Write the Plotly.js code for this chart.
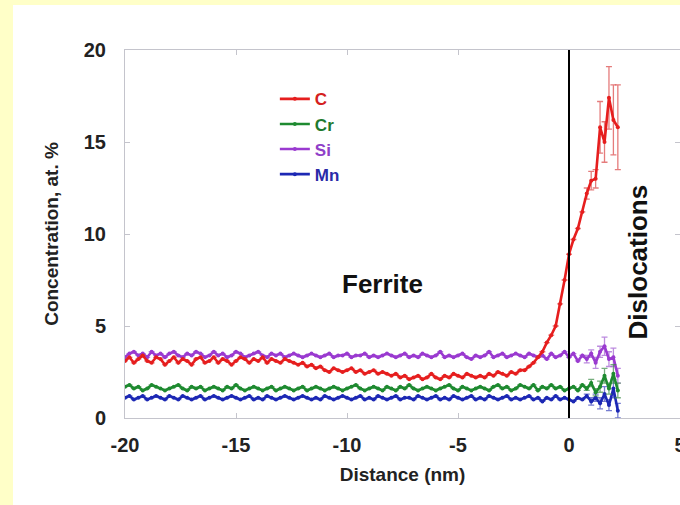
<!DOCTYPE html>
<html>
<head>
<meta charset="utf-8">
<script src="https://cdn.plot.ly/plotly-3.0.1.min.js"></script>
<style>
  html, body { margin: 0; padding: 0; width: 680px; height: 505px; overflow: hidden; background: #ffffc8; }
  #chart { position: absolute; left: 13px; top: 5px; width: 667px; height: 500px; background: #ffffff; }
</style>
</head>
<body>
<div id="chart"></div>
<script>
// Distance axis: first point and step (nm)
const distanceStart = -20;
const distanceStep = 0.2;

// Tick labels
const xTickVals = [-20, -15, -10, -5, 0, 5];
const xTickText = ['-20', '-15', '-10', '-5', '0', '5'];
const yTickVals = [0, 5, 10, 15, 20];
const yTickText = ['0', '5', '10', '15', '20'];

// Concentrations (at. %), one value per 0.2 nm from -20 nm to 2.2 nm
const carbon = [
  3.1, 3.3, 3.0, 3.2, 3.4, 3.1, 3.0, 3.3, 3.2, 2.9,
  3.1, 3.3, 3.0, 3.2, 3.1, 2.9, 3.2, 3.3, 3.0, 3.1,
  3.3, 3.0, 3.2, 3.1, 2.9, 3.1, 3.3, 3.2, 3.0, 3.2,
  3.1, 3.3, 3.0, 3.2, 3.1, 3.0, 3.2, 3.1, 3.0, 2.9,
  3.0, 2.8, 2.9, 2.7, 2.8, 2.6, 2.5, 2.7, 2.6, 2.5,
  2.6, 2.7, 2.5, 2.6, 2.4, 2.5, 2.6, 2.4, 2.5, 2.4,
  2.3, 2.4, 2.2, 2.3, 2.1, 2.2, 2.3, 2.1, 2.2, 2.4,
  2.2, 2.1, 2.3, 2.2, 2.4, 2.3, 2.2, 2.4, 2.3, 2.2,
  2.3, 2.2, 2.4, 2.3, 2.5, 2.4, 2.3, 2.5, 2.4, 2.6,
  2.6, 2.8, 3.0, 3.3, 3.6, 4.1, 4.5, 5.0, 6.2, 7.5,
  8.9, 9.7, 10.3, 11.2, 12.2, 12.9, 13.0, 15.8, 15.0, 17.4, 16.2, 15.8
];
const chromium = [
  1.7, 1.8, 1.6, 1.7, 1.5, 1.6, 1.8, 1.7, 1.6, 1.5,
  1.6, 1.7, 1.8, 1.6, 1.5, 1.7, 1.6, 1.7, 1.5, 1.6,
  1.7, 1.6, 1.5, 1.7, 1.6, 1.8, 1.6, 1.5, 1.6, 1.7,
  1.6, 1.5, 1.6, 1.7, 1.5, 1.6, 1.7, 1.6, 1.5, 1.6,
  1.7, 1.5, 1.6, 1.7, 1.6, 1.5, 1.6, 1.7, 1.6, 1.5,
  1.6, 1.7, 1.8, 1.6, 1.5, 1.6, 1.7, 1.6, 1.5, 1.7,
  1.6, 1.5, 1.7, 1.6, 1.8, 1.6, 1.5, 1.6, 1.7, 1.6,
  1.5, 1.6, 1.7, 1.8, 1.6, 1.5, 1.7, 1.6, 1.5, 1.6,
  1.7, 1.6, 1.5, 1.7, 1.8, 1.6, 1.7, 1.5, 1.6, 1.8,
  1.7, 1.6, 1.8, 1.5, 1.7, 1.6, 1.8, 1.6, 1.7, 1.5,
  1.6, 1.7, 1.5, 1.8, 1.6, 1.9, 1.4, 1.7, 2.3, 1.6, 2.4, 1.5
];
const silicon = [
  3.3, 3.5, 3.6, 3.4, 3.5, 3.3, 3.6, 3.4, 3.5, 3.3,
  3.5, 3.6, 3.4, 3.3, 3.5, 3.4, 3.6, 3.5, 3.3, 3.4,
  3.6, 3.4, 3.5, 3.3, 3.4, 3.6, 3.5, 3.3, 3.4, 3.5,
  3.6, 3.4, 3.3, 3.5, 3.4, 3.5, 3.3, 3.4, 3.5, 3.4,
  3.3, 3.4, 3.5, 3.4, 3.3, 3.4, 3.5, 3.3, 3.4, 3.4,
  3.5, 3.3, 3.4, 3.4, 3.5, 3.3, 3.4, 3.3, 3.4, 3.5,
  3.4, 3.3, 3.4, 3.5, 3.3, 3.4, 3.3, 3.5, 3.4, 3.3,
  3.4, 3.6, 3.3, 3.4, 3.3, 3.4, 3.5, 3.3, 3.2, 3.4,
  3.3, 3.4, 3.6, 3.3, 3.4, 3.5, 3.3, 3.4, 3.5, 3.4,
  3.3, 3.5, 3.4, 3.3, 3.4, 3.2, 3.5, 3.3, 3.4, 3.6,
  3.3, 3.5, 3.1, 3.4, 3.2, 3.5, 3.0, 3.6, 3.9, 3.2, 3.3, 2.3
];
const manganese = [
  1.1, 1.2, 1.0, 1.1, 1.2, 1.0, 1.1, 1.2, 1.1, 1.0,
  1.2, 1.1, 1.0, 1.2, 1.1, 1.0, 1.1, 1.2, 1.0, 1.1,
  1.2, 1.1, 1.0, 1.1, 1.2, 1.1, 1.0, 1.1, 1.2, 1.0,
  1.1, 1.0, 1.2, 1.1, 1.0, 1.1, 1.2, 1.1, 1.0, 1.1,
  1.2, 1.1, 1.0, 1.1, 1.0, 1.2, 1.1, 1.0, 1.1, 1.2,
  1.1, 1.0, 1.1, 1.2, 1.0, 1.1, 1.0, 1.2, 1.1, 1.0,
  1.1, 1.2, 1.0, 1.1, 1.1, 1.0, 1.2, 1.1, 1.0, 1.1,
  1.2, 1.0, 1.1, 1.0, 1.2, 1.1, 1.0, 1.1, 1.2, 1.0,
  1.1, 1.0, 1.2, 1.1, 1.0, 1.1, 1.2, 1.0, 1.1, 1.0,
  1.1, 1.2, 1.0, 1.1, 0.9, 1.1, 1.0, 1.2, 1.0, 1.1,
  1.0, 0.9, 1.1, 1.0, 1.2, 0.9, 1.1, 0.8, 1.3, 0.7, 1.6, 0.4
];

// Error bars on the last 8 points (0.8 nm to 2.2 nm)
const carbonErrTail    = [0.3, 0.5, 0.5, 1.4, 1.1, 1.7, 1.9, 2.3];
const chromiumErrTail  = [0.1, 0.2, 0.2, 0.3, 0.4, 0.3, 0.5, 0.4];
const siliconErrTail   = [0.2, 0.2, 0.3, 0.3, 0.5, 0.4, 0.5, 0.4];
const manganeseErrTail = [0.1, 0.2, 0.2, 0.3, 0.4, 0.3, 0.5, 0.4];

const seriesNames = ['C', 'Cr', 'Si', 'Mn'];

function padErr(values, tail) {
  const out = values.map(() => 0);
  for (let k = 0; k < tail.length; k++) out[values.length - tail.length + k] = tail[k];
  return out;
}

function makeTrace(name, values, tail, color, errColor, labelColor, rank) {
  return {
    type: 'scatter',
    mode: 'lines+markers',
    name: '<span style="color:' + labelColor + '">' + name + '</span>',
    x0: distanceStart,
    dx: distanceStep,
    y: values,
    line: { color: color, width: 2.6 },
    marker: { color: color, size: 4 },
    error_y: { type: 'data', array: padErr(values, tail), visible: true, color: errColor, thickness: 1.3, width: 3 },
    legendrank: rank
  };
}

const data = [
  makeTrace(seriesNames[3], manganese, manganeseErrTail, '#1c28b4', 'rgba(60,70,190,0.7)', '#2a2aa8', 4),
  makeTrace(seriesNames[2], silicon, siliconErrTail, '#9a3ad0', 'rgba(160,90,210,0.7)', '#9040c8', 3),
  makeTrace(seriesNames[1], chromium, chromiumErrTail, '#1e8a30', 'rgba(60,140,70,0.7)', '#1e7a2e', 2),
  makeTrace(seriesNames[0], carbon, carbonErrTail, '#e61e1e', 'rgba(220,80,80,0.75)', '#d42020', 1)
];

const axisGray = '#c4c4cc';
const fam = '"Liberation Sans", Arial, sans-serif';
const tickFont = { family: fam, size: 20, color: '#222222', weight: 'bold' };
const titleFont = { family: fam, size: 19, color: '#222222', weight: 'bold' };

const layout = {
  width: 667,
  height: 500,
  margin: { l: 112, r: 0, t: 45, b: 87, pad: 0 },
  paper_bgcolor: '#ffffff',
  plot_bgcolor: '#ffffff',
  font: { family: fam, size: 19, color: '#222222' },
  showlegend: true,
  legend: {
    x: 0.27, y: 0.915, xanchor: 'left', yanchor: 'top',
    bgcolor: 'rgba(0,0,0,0)',
    font: { family: fam, size: 17, weight: 'bold' },
    tracegroupgap: 0
  },
  xaxis: {
    range: [-20, 5],
    tickvals: xTickVals,
    ticktext: xTickText,
    ticks: 'inside', ticklen: 5, tickcolor: axisGray,
    showline: true, linecolor: axisGray, linewidth: 1, mirror: 'ticks',
    showgrid: false, zeroline: false,
    ticklabelstandoff: 9,
    ticklabeloverflow: 'allow',
    tickfont: tickFont,
    title: { text: 'Distance (nm)', font: titleFont, standoff: 12 }
  },
  yaxis: {
    range: [0, 20],
    tickvals: yTickVals,
    ticktext: yTickText,
    ticks: 'inside', ticklen: 5, tickcolor: axisGray,
    showline: true, linecolor: axisGray, linewidth: 1, mirror: 'ticks',
    showgrid: false, zeroline: false,
    ticklabelstandoff: 14,
    tickfont: tickFont,
    title: { text: 'Concentration, at. %', font: titleFont, standoff: 20 }
  },
  shapes: [
    { type: 'line', xref: 'x', yref: 'y', x0: 0, x1: 0, y0: 0, y1: 20.2, line: { color: '#000000', width: 2 } }
  ],
  annotations: [
    { text: 'Ferrite', xref: 'x', yref: 'y', x: -8.4, y: 7.3, showarrow: false,
      font: { family: fam, size: 26, color: '#111111', weight: 'bold' } },
    { text: 'Dislocations', xref: 'x', yref: 'y', x: 3.1, y: 8.5, showarrow: false, textangle: -90,
      font: { family: fam, size: 26, color: '#111111', weight: 'bold' } }
  ]
};

Plotly.newPlot('chart', data, layout, { displayModeBar: false, staticPlot: true });
</script>
</body>
</html>
